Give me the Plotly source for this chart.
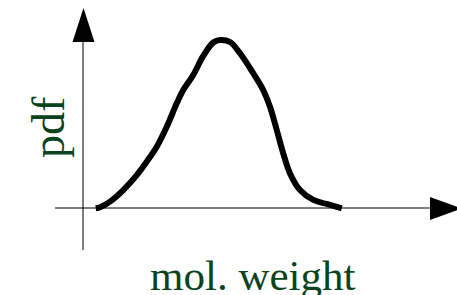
import plotly.graph_objects as go

# Data (arbitrary units): molecular weight vs probability density
mol_weight = [0.51, 0.68, 1.08, 1.61, 2.15, 2.55, 2.95, 3.35, 3.75, 4.01, 4.41,
              4.81, 5.21, 5.48, 5.88, 6.28, 6.81, 7.21, 7.48, 7.75, 8.01,
              8.28, 8.68, 9.21, 9.75, 10.35]
pdf = [-0.002, 0.004, 0.038, 0.107, 0.196, 0.276, 0.365, 0.484, 0.623, 0.702,
       0.792, 0.905, 0.985, 1.000, 0.988, 0.921, 0.802, 0.702, 0.603, 0.464,
       0.325, 0.206, 0.107, 0.048, 0.024, -0.002]

x_label = "mol. weight"
y_label = "pdf"

W, H = 457, 295
# pixel mapping: origin at px (83, 208); 25 px per x unit, 168 px per y unit
XPX, YPX = 25.0, 168.0
OX, OY = 83.0, 208.0
x_range = [-OX / XPX, (W - OX) / XPX]
y_range = [(OY - H) / YPX, OY / YPX]


def px_x(p):
    return (p - OX) / XPX


def px_y(p):
    return (OY - p) / YPX


fig = go.Figure()
fig.add_trace(go.Scatter(x=mol_weight, y=pdf, mode="lines",
                         line=dict(color="black", width=6, shape="spline", smoothing=1.0),
                         hoverinfo="skip", showlegend=False))

green = "#0b4320"
shapes = [
    # horizontal axis (gray)
    dict(type="line", xref="x", yref="y", x0=px_x(55), x1=px_x(432), y0=0, y1=0,
         line=dict(color="#808080", width=2), layer="below"),
    # vertical axis
    dict(type="line", xref="x", yref="y", x0=0, x1=0, y0=px_y(250), y1=px_y(40),
         line=dict(color="black", width=1), layer="below"),
    # arrow heads
    dict(type="path", xref="x", yref="y",
         path=f"M {px_x(72.5)} {px_y(42)} L {px_x(94.5)} {px_y(42)} L {px_x(83.5)} {px_y(8)} Z",
         fillcolor="black", line=dict(width=0)),
    dict(type="path", xref="x", yref="y",
         path=f"M {px_x(430)} {px_y(197)} L {px_x(430)} {px_y(220)} L {px_x(462)} {px_y(208.5)} Z",
         fillcolor="black", line=dict(width=0)),
]

annotations = [
    dict(text=x_label, xref="paper", yref="paper", x=253 / W, y=1 - 301 / H,
         xanchor="center", yanchor="bottom", showarrow=False,
         font=dict(family="Liberation Serif", size=43, color=green)),
    dict(text=y_label, xref="paper", yref="paper", x=48 / W, y=1 - 127 / H,
         xanchor="center", yanchor="middle", showarrow=False, textangle=-90,
         font=dict(family="Liberation Serif", size=46, color=green)),
]

fig.update_layout(
    width=W, height=H, margin=dict(l=0, r=0, t=0, b=0),
    paper_bgcolor="white", plot_bgcolor="white",
    xaxis=dict(range=x_range, visible=False, fixedrange=True),
    yaxis=dict(range=y_range, visible=False, fixedrange=True),
    shapes=shapes, annotations=annotations, showlegend=False,
)

fig.write_html("out.html", config={"displayModeBar": False},
               post_script="document.body.style.margin='0';document.body.style.overflow='hidden';")
